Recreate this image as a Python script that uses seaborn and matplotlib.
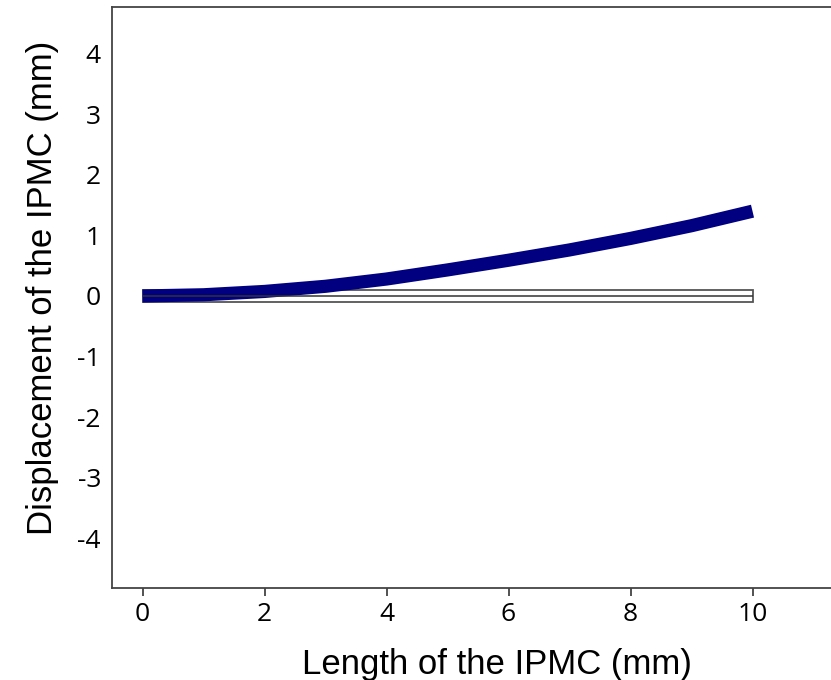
import numpy as np, matplotlib
matplotlib.use("Agg")
import matplotlib.pyplot as plt
import seaborn as sns
import pandas as pd
from matplotlib.patches import Rectangle

# IPMC bending profile
length_mm = [0, 1, 2, 3, 4, 5, 6, 7, 8, 9, 10]
disp_mm = [0.0, 0.02, 0.075, 0.16, 0.28, 0.43, 0.59, 0.76, 0.95, 1.16, 1.40]
# undeformed strip outline (x0, width, y0, height)
strip = (0.0, 10.0, -0.1, 0.2)
xticks = [0, 2, 4, 6, 8, 10]
yticks = [-4, -3, -2, -1, 0, 1, 2, 3, 4]

sns.set_style("white")
plt.rcParams["font.family"] = ["Open Sans", "DejaVu Sans"]

fig = plt.figure(figsize=(8.31, 6.8), dpi=100)
ax = fig.add_axes([112/831, 92/680, 732/831, 581/680])

x0, w, y0, h = strip
ax.add_patch(Rectangle((x0, y0), w, h, facecolor="white", edgecolor="#555555", lw=1.3, zorder=1))
df = pd.DataFrame({"x": length_mm, "y": disp_mm})
sns.lineplot(data=df, x="x", y="y", ax=ax, color="#000080", lw=9.5, zorder=2,
             solid_capstyle="butt")
ax.hlines(0, x0, x0 + w, color="#333333", lw=1.1, zorder=3)
ax.hlines(0, x0 + 1.6, x0 + w, color="#555555", lw=1.1, zorder=0.5)

ax.set_xlim(-0.5, 11.5)
ax.set_ylim(-4.82, 4.77)
ax.set_xticks(xticks)
ax.set_xticklabels([str(t) for t in xticks])
ax.set_yticks(yticks)
ax.set_yticklabels([str(t) for t in yticks])
ax.tick_params(axis="x", direction="out", length=6, width=1.2, color="#333333",
               labelsize=19, pad=4, bottom=True, labelcolor="black")
ax.tick_params(axis="y", length=0, labelsize=19, pad=8, labelcolor="black")
for s in ["left", "bottom", "top", "right"]:
    ax.spines[s].set_color("#444444")
    ax.spines[s].set_linewidth(1.3)

ax.set_xlabel("Length of the IPMC (mm)", fontsize=25, family="Liberation Sans", color="black")
ax.set_ylabel("Displacement of the IPMC (mm)", fontsize=25, family="Liberation Sans", color="black")
ax.xaxis.set_label_coords(0.526, -0.103)
ax.yaxis.set_label_coords(-0.073, 0.516)

fig.savefig("out.png", dpi=100)
